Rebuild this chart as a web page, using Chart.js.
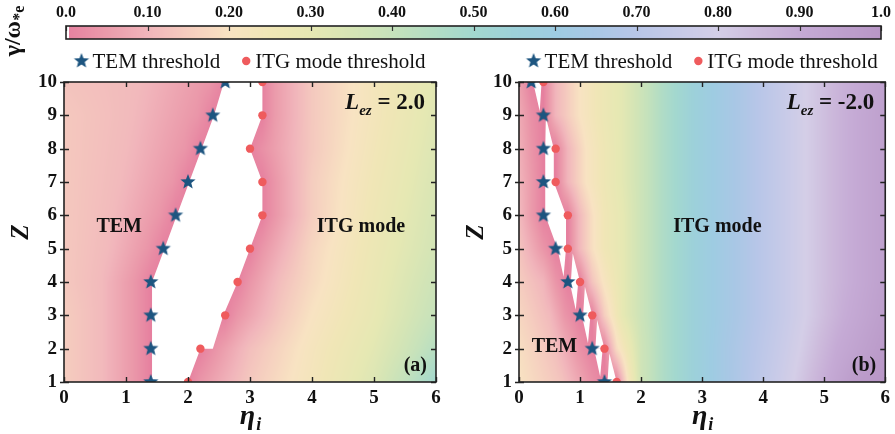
<!DOCTYPE html>
<html><head><meta charset="utf-8">
<script src="https://cdn.jsdelivr.net/npm/chart.js@4.4.1/dist/chart.umd.min.js"></script>
<style>
html,body{margin:0;padding:0;background:#fff;overflow:hidden}
#wrap{position:relative;width:895px;height:434px;background:#fff}
canvas{position:absolute}
</style></head><body>
<div id="wrap">
<canvas id="ca" width="447" height="434" style="left:0;top:0"></canvas>
<canvas id="cb" width="448" height="434" style="left:447px;top:0"></canvas>
<canvas id="cbar" width="895" height="62" style="left:0;top:0"></canvas>
</div>
<script>
// ---------------- data ----------------
const zLevels = [1,2,3,4,5,6,7,8,9,10];
const etaTicks = [0,1,2,3,4,5,6];
const zTicks = [1,2,3,4,5,6,7,8,9,10];
const colorbarTicks = [0,0.1,0.2,0.3,0.4,0.5,0.6,0.7,0.8,0.9,1.0];
const colorbarTickLabels = ['0.0','0.10','0.20','0.30','0.40','0.50','0.60','0.70','0.80','0.90','1.0'];

// thresholds (eta_i) for Z = 1..10
const temThresholdA = [1.4,1.4,1.4,1.4,1.6,1.8,2.0,2.2,2.4,2.6];
const itgThresholdA = [2.0,2.2,2.6,2.8,3.0,3.2,3.2,3.0,3.2,3.2];
const temThresholdB = [1.4,1.2,1.0,0.8,0.6,0.4,0.4,0.4,0.4,0.2];
const itgThresholdB = [1.6,1.4,1.2,1.0,0.8,0.8,0.6,0.6,0.4,0.4];

// growth rate gamma/omega*e samples [eta, gamma] along each Z row (Z = 1..10)
const gammaTemA = [
 [[0,0.15],[0.6,0.11],[1.15,0.04],[1.4,0]],
 [[0,0.15],[0.6,0.11],[1.15,0.04],[1.4,0]],
 [[0,0.15],[0.6,0.11],[1.15,0.04],[1.4,0]],
 [[0,0.14],[0.6,0.11],[1.15,0.04],[1.4,0]],
 [[0,0.14],[0.7,0.11],[1.35,0.04],[1.6,0]],
 [[0,0.14],[0.8,0.11],[1.55,0.04],[1.8,0]],
 [[0,0.14],[0.9,0.11],[1.75,0.04],[2.0,0]],
 [[0,0.14],[1.0,0.11],[1.95,0.04],[2.2,0]],
 [[0,0.14],[1.1,0.11],[2.15,0.04],[2.4,0]],
 [[0,0.13],[1.2,0.11],[2.35,0.04],[2.6,0]]
];
const gammaItgA = [
 [[2.0,0],[2.2,0.04],[3.0,0.14],[4.0,0.23],[5.0,0.33],[5.5,0.41],[6.0,0.50]],
 [[2.2,0],[2.4,0.03],[3.0,0.12],[4.0,0.22],[5.0,0.31],[5.5,0.37],[6.0,0.44]],
 [[2.6,0],[2.8,0.04],[3.5,0.14],[4.0,0.20],[5.0,0.29],[6.0,0.40]],
 [[2.8,0],[3.0,0.04],[3.5,0.12],[4.0,0.18],[5.0,0.28],[6.0,0.38]],
 [[3.0,0],[3.2,0.04],[4.0,0.17],[5.0,0.27],[6.0,0.36]],
 [[3.2,0],[3.4,0.04],[4.0,0.15],[5.0,0.26],[6.0,0.35]],
 [[3.2,0],[3.4,0.04],[4.0,0.15],[5.0,0.25],[6.0,0.34]],
 [[3.0,0],[3.2,0.03],[4.0,0.14],[5.0,0.24],[6.0,0.33]],
 [[3.2,0],[3.4,0.05],[4.0,0.14],[5.0,0.23],[6.0,0.32]],
 [[3.2,0],[3.4,0.05],[4.0,0.14],[5.0,0.23],[6.0,0.31]]
];
const gammaTemB = [
 [[0,0.20],[0.7,0.13],[1.15,0.04],[1.4,0]],
 [[0,0.19],[0.6,0.12],[0.95,0.04],[1.2,0]],
 [[0,0.17],[0.5,0.11],[0.75,0.04],[1.0,0]],
 [[0,0.15],[0.4,0.10],[0.6,0.04],[0.8,0]],
 [[0,0.13],[0.35,0.05],[0.6,0]],
 [[0,0.11],[0.2,0.05],[0.4,0]],
 [[0,0.10],[0.2,0.05],[0.4,0]],
 [[0,0.09],[0.2,0.04],[0.4,0]],
 [[0,0.08],[0.2,0.03],[0.4,0]],
 [[0,0.06],[0.2,0]]
];
const gammaItgB = [
 [[1.6,0],[1.8,0.22],[2.0,0.37],[2.4,0.47],[2.9,0.56],[3.4,0.64],[4.0,0.73],[4.5,0.80],[5.0,0.89],[5.5,0.97],[6.0,1.0]],
 [[1.4,0],[1.6,0.18],[2.0,0.37],[2.4,0.47],[2.9,0.56],[3.4,0.64],[4.0,0.72],[4.6,0.80],[5.2,0.90],[6.0,0.98]],
 [[1.2,0],[1.4,0.15],[1.7,0.30],[2.0,0.38],[2.4,0.47],[2.9,0.56],[3.4,0.63],[4.0,0.71],[4.7,0.80],[5.3,0.89],[6.0,0.96]],
 [[1.0,0],[1.2,0.13],[1.4,0.21],[1.7,0.30],[2.0,0.38],[2.4,0.47],[2.9,0.56],[3.4,0.63],[4.0,0.71],[4.7,0.80],[5.3,0.88],[6.0,0.95]],
 [[0.8,0],[1.0,0.11],[1.2,0.19],[1.4,0.25],[1.7,0.30],[2.0,0.38],[2.4,0.47],[2.9,0.56],[3.4,0.63],[4.0,0.71],[4.7,0.80],[5.3,0.88],[6.0,0.95]],
 [[0.8,0],[1.0,0.11],[1.2,0.19],[1.4,0.25],[1.7,0.30],[2.0,0.38],[2.4,0.47],[2.9,0.56],[3.4,0.63],[4.0,0.71],[4.7,0.80],[5.3,0.88],[6.0,0.95]],
 [[0.6,0],[0.8,0.10],[1.1,0.20],[1.4,0.26],[1.7,0.31],[2.0,0.38],[2.4,0.47],[2.9,0.56],[3.4,0.63],[4.0,0.71],[4.7,0.80],[5.3,0.88],[6.0,0.95]],
 [[0.6,0],[0.8,0.10],[1.1,0.20],[1.4,0.26],[1.7,0.31],[2.0,0.38],[2.4,0.47],[2.9,0.56],[3.4,0.63],[4.0,0.71],[4.7,0.80],[5.3,0.88],[6.0,0.95]],
 [[0.4,0],[0.6,0.10],[1.0,0.20],[1.4,0.27],[1.7,0.31],[2.0,0.38],[2.4,0.47],[2.9,0.56],[3.4,0.63],[4.0,0.71],[4.7,0.80],[5.3,0.88],[6.0,0.95]],
 [[0.4,0],[0.6,0.10],[1.0,0.20],[1.4,0.27],[1.7,0.31],[2.0,0.38],[2.4,0.47],[2.9,0.56],[3.4,0.63],[4.0,0.71],[4.7,0.80],[5.3,0.88],[6.0,0.94]]
];

// stable (no instability) regions, boundary points [eta, Z]
const stableA = [
 [[1.42,1],[1.42,4],[1.62,5],[1.82,6],[2.02,7],[2.22,8],[2.42,9],[2.58,10],[3.2,10],[3.2,9],[3.0,8],[3.2,7],[3.2,6],[3.0,5],[2.8,4],[2.57,3],[2.4,2],[2.2,2],[2.0,1]]
];
const stableB = [
 [[0.23,10],[0.37,10],[0.34,9.12]],
 [[0.44,8.95],[0.57,8],[0.57,7],[0.77,6],[0.77,5],[0.63,5],[0.43,6],[0.43,8]],
 [[0.63,5],[0.77,5],[0.73,4.16]],
 [[0.85,4],[1.0,4],[0.88,4.86]],
 [[0.83,4],[0.97,4],[0.93,3.16]],
 [[1.05,3],[1.2,3],[1.08,3.86]],
 [[1.03,3],[1.17,3],[1.13,2.16]],
 [[1.25,2],[1.4,2],[1.28,2.86]],
 [[1.23,2],[1.37,2],[1.33,1.16]],
 [[1.45,1],[1.6,1],[1.48,1.86]]
];

// ---------------- styling ----------------
const SERIF = "'Liberation Serif','Times New Roman',serif";
const cmapPos = [0,0.05,0.1,0.15,0.2,0.25,0.3,0.35,0.4,0.45,0.5,0.55,0.6,0.65,0.7,0.75,0.8,0.85,0.9,0.95,1.0];
const cmapHex = ['#e6809f','#eb9bab','#f1b5bb','#f5cdbf','#f8e3c2','#f0e6b6','#e6e8b3','#d6e5b5','#c6e2bb','#b3ddc4','#a3d8cf','#9dd1d9','#9ecce2','#a9c7e5','#b8c6e8','#c6cae8','#d4cee7','#cdbbdc','#c5aad5','#bea0cd','#b896c6'];
const cmapRGB = cmapHex.map(h=>[parseInt(h.slice(1,3),16),parseInt(h.slice(3,5),16),parseInt(h.slice(5,7),16)]);
function colorFor(v){
  if(v<=0) return cmapRGB[0];
  if(v>=1) return cmapRGB[cmapRGB.length-1];
  for(let k=1;k<cmapPos.length;k++){
    if(v<=cmapPos[k]){const t=(v-cmapPos[k-1])/(cmapPos[k]-cmapPos[k-1]);const a=cmapRGB[k-1],b=cmapRGB[k];
      return [a[0]+(b[0]-a[0])*t,a[1]+(b[1]-a[1])*t,a[2]+(b[2]-a[2])*t];}
  }
  return cmapRGB[cmapRGB.length-1];
}
function interp(kn,x){
  if(x<=kn[0][0]) return kn[0][1];
  for(let k=1;k<kn.length;k++){ if(x<=kn[k][0]){const t=(x-kn[k-1][0])/(kn[k][0]-kn[k-1][0]);return kn[k-1][1]+(kn[k][1]-kn[k-1][1])*t;} }
  return kn[kn.length-1][1];
}
function rowGamma(f,i,eta){
  if(eta<=f.temTh[i]) return interp(f.tem[i],eta);
  if(eta>=f.itgTh[i]) return interp(f.itg[i],eta);
  return 0;
}
function gammaAt(f,eta,z){
  const zz=Math.min(Math.max(z,zLevels[0]),zLevels[zLevels.length-1]);
  let i0=0; while(i0<zLevels.length-2 && zz>zLevels[i0+1]) i0++;
  const t=(zz-zLevels[i0])/(zLevels[i0+1]-zLevels[i0]);
  return (1-t)*rowGamma(f,i0,eta)+t*rowGamma(f,i0+1,eta);
}
function makeStar(R,color){
  const s=Math.ceil(2*R+2); const c=document.createElement('canvas'); c.width=s; c.height=s;
  const g=c.getContext('2d'); g.fillStyle=color; g.beginPath();
  for(let k=0;k<10;k++){const r=k%2?R*0.43:R; const a=-Math.PI/2+k*Math.PI/5;
    const x=s/2+r*Math.cos(a), y=s/2+r*Math.sin(a); k?g.lineTo(x,y):g.moveTo(x,y);}
  g.closePath(); g.fill(); return c;
}
const STAR_COLOR='#1d5580', CIRC_COLOR='#ef5b5d';
const starImg = makeStar(8,STAR_COLOR);

function heatmapPlugin(field, stable){
  return {id:'heatmap', beforeDatasetsDraw(chart){
    const {ctx,chartArea:{left,top,right,bottom},scales:{x,y}}=chart;
    const L=Math.round(left),T=Math.round(top),W=Math.round(right)-L,H=Math.round(bottom)-T;
    const off=document.createElement('canvas'); off.width=W; off.height=H;
    const g=off.getContext('2d'); const img=g.createImageData(W,H); const d=img.data;
    const etas=[]; for(let i=0;i<W;i++) etas.push(x.getValueForPixel(L+i+0.5));
    for(let j=0;j<H;j++){const z=y.getValueForPixel(T+j+0.5);
      for(let i=0;i<W;i++){const c=colorFor(gammaAt(field,etas[i],z)); const k=(j*W+i)*4;
        d[k]=c[0];d[k+1]=c[1];d[k+2]=c[2];d[k+3]=255;}}
    g.putImageData(img,0,0); ctx.drawImage(off,L,T);
    ctx.save(); ctx.fillStyle='#ffffff';
    for(const poly of stable){ctx.beginPath();
      poly.forEach((p,k)=>{const px=x.getPixelForValue(p[0]),py=y.getPixelForValue(p[1]);k?ctx.lineTo(px,py):ctx.moveTo(px,py);});
      ctx.closePath(); ctx.fill();}
    ctx.restore();
  }};
}
function decorPlugin(cfg){
  return {id:'decor', afterDraw(chart){
    const {ctx,chartArea:{left,top,right,bottom},scales:{x,y}}=chart;
    ctx.save();
    // ticks & frame
    ctx.strokeStyle='#222'; ctx.lineWidth=1.4;
    ctx.beginPath();
    for(const v of etaTicks){const px=Math.round(x.getPixelForValue(v))+0.5;
      ctx.moveTo(px,bottom); ctx.lineTo(px,bottom-5); ctx.moveTo(px,top); ctx.lineTo(px,top+5);}
    for(const v of zTicks){const py=Math.round(y.getPixelForValue(v))+0.5;
      ctx.moveTo(left-4,py); ctx.lineTo(left+5,py); ctx.moveTo(right,py); ctx.lineTo(right-5,py);}
    ctx.stroke();
    ctx.lineWidth=1.6; ctx.strokeRect(left,top,right-left,bottom-top);
    ctx.fillStyle='#111';
    // region labels
    ctx.font='bold 20px '+SERIF; ctx.textAlign='center'; ctx.textBaseline='middle';
    for(const lb of cfg.labels){ctx.fillText(lb.text,x.getPixelForValue(lb.eta),y.getPixelForValue(lb.z));}
    // L_ez label
    ctx.textBaseline='alphabetic'; ctx.textAlign='left';
    const segs=[{t:'L',f:'italic bold 23px '+SERIF,dy:0},{t:'ez',f:'italic bold 15px '+SERIF,dy:6},{t:' = '+cfg.lez,f:'bold 23px '+SERIF,dy:0}];
    let tw=0; segs.forEach(s=>{ctx.font=s.f; s.w=ctx.measureText(s.t).width; tw+=s.w;});
    let cx=right-11-tw; const by=top+27;
    segs.forEach(s=>{ctx.font=s.f; ctx.fillText(s.t,cx,by+s.dy); cx+=s.w;});
    // panel tag
    ctx.font='bold 20px '+SERIF; ctx.textAlign='right'; ctx.fillText(cfg.tag,right-9,bottom-11);
    // axis titles
    ctx.save(); ctx.translate(left-42,(top+bottom)/2); ctx.rotate(-Math.PI/2);
    ctx.font='italic bold 25px '+SERIF; ctx.textAlign='center'; ctx.textBaseline='middle'; ctx.fillText('Z',0,0); ctx.restore();
    ctx.font='italic bold 28px '+SERIF; const we=ctx.measureText('η').width;
    ctx.font='italic bold 18px '+SERIF; const wi=ctx.measureText('i').width;
    let ex=(left+right)/2-(we+wi)/2; ctx.textAlign='left';
    ctx.font='italic bold 28px '+SERIF; ctx.fillText('η',ex,bottom+42);
    ctx.font='italic bold 18px '+SERIF; ctx.fillText('i',ex+we+1,bottom+48);
    // legend
    const ds=chart.data.datasets;
    ctx.font='21px '+SERIF; ctx.textBaseline='middle';
    const w1=ctx.measureText(ds[0].label).width, w2=ctx.measureText(ds[1].label).width;
    const total=18+w1+22+13+w2; let lx=(left+right)/2-total/2; const ly=61;
    ctx.drawImage(starImg,lx+7-starImg.width/2,ly-starImg.height/2);
    ctx.fillText(ds[0].label,lx+18,ly+1); lx+=18+w1+22;
    ctx.fillStyle=CIRC_COLOR; ctx.beginPath(); ctx.arc(lx+4,ly,4.2,0,Math.PI*2); ctx.fill();
    ctx.fillStyle='#111'; ctx.fillText(ds[1].label,lx+13,ly+1);
    ctx.restore();
  }};
}
function makePanel(id,temTh,itgTh,temKn,itgKn,stable,yW,padR,cfg){
  const field={tem:temKn,itg:itgKn,temTh:temTh,itgTh:itgTh};
  const tickFont={family:SERIF,size:19,weight:'bold'};
  return new Chart(document.getElementById(id),{
    type:'scatter',
    data:{datasets:[
      {label:'TEM threshold',data:zLevels.map((z,i)=>({x:temTh[i],y:z})),pointStyle:starImg,pointRadius:8,clip:0},
      {label:'ITG mode threshold',data:zLevels.map((z,i)=>({x:itgTh[i],y:z})),pointStyle:'circle',pointRadius:4.2,backgroundColor:CIRC_COLOR,borderWidth:0,clip:0}
    ]},
    options:{responsive:false,animation:false,devicePixelRatio:1,
      layout:{padding:{top:82,right:padR,left:0,bottom:0}},
      plugins:{legend:{display:false},tooltip:{enabled:false}},
      scales:{
        x:{type:'linear',min:0,max:6,afterBuildTicks:s=>{s.ticks=etaTicks.map(v=>({value:v}));},
           ticks:{font:tickFont,color:'#111',padding:5,maxRotation:0,autoSkip:false},
           grid:{display:false,drawTicks:false,tickLength:0},border:{display:false},afterFit:s=>{s.height=52;}},
        y:{type:'linear',min:1,max:10,afterBuildTicks:s=>{s.ticks=zTicks.map(v=>({value:v}));},
           ticks:{font:tickFont,color:'#111',padding:7,autoSkip:false},
           grid:{display:false,drawTicks:false,tickLength:0},border:{display:false},afterFit:s=>{s.width=yW;}}
      }},
    plugins:[heatmapPlugin(field,stable),decorPlugin(cfg)]
  });
}
makePanel('ca',temThresholdA,itgThresholdA,gammaTemA,gammaItgA,stableA,64,11,
  {lez:'2.0',tag:'(a)',labels:[{text:'TEM',eta:0.89,z:5.65},{text:'ITG mode',eta:4.79,z:5.65}]});
makePanel('cb',temThresholdB,itgThresholdB,gammaTemB,gammaItgB,stableB,72,5,
  {lez:'-2.0',tag:'(b)',labels:[{text:'ITG mode',eta:3.25,z:5.65},{text:'TEM',eta:0.58,z:2.05}]});

// colorbar
const colorbarPlugin={id:'cbar',afterDraw(chart){
  const {ctx,chartArea:{left,top,right,bottom},scales:{x}}=chart;
  ctx.save();
  for(let px=Math.floor(left);px<Math.ceil(right);px++){
    const v=x.getValueForPixel(px+0.5); const c=v<0.004?[255,255,255]:colorFor(v);
    ctx.fillStyle='rgb('+c.map(Math.round).join(',')+')'; ctx.fillRect(px,top,1,bottom-top);
  }
  ctx.strokeStyle='#333'; ctx.lineWidth=1.2; ctx.beginPath();
  for(const v of colorbarTicks){const px=Math.round(x.getPixelForValue(v))+0.5; ctx.moveTo(px,top); ctx.lineTo(px,top+5);}
  ctx.stroke();
  ctx.strokeStyle='#222'; ctx.lineWidth=1.6; ctx.strokeRect(left,top,right-left,bottom-top);
  // label gamma/omega_*e
  ctx.fillStyle='#111'; ctx.translate(14,31); ctx.rotate(-Math.PI/2);
  ctx.font='bold 24px '+SERIF; const w1=ctx.measureText('γ/ω').width;
  ctx.font='bold 16px '+SERIF; const w2=ctx.measureText('*e').width;
  ctx.textBaseline='middle'; ctx.textAlign='left';
  ctx.font='bold 24px '+SERIF; ctx.fillText('γ/ω',-(w1+w2)/2,0);
  ctx.font='bold 16px '+SERIF; ctx.fillText('*e',-(w1+w2)/2+w1,6);
  ctx.restore();
}};
new Chart(document.getElementById('cbar'),{
  type:'scatter',data:{datasets:[]},
  options:{responsive:false,animation:false,devicePixelRatio:1,
    layout:{padding:{left:66,right:5,top:0,bottom:23}},
    plugins:{legend:{display:false},tooltip:{enabled:false}},
    scales:{
      x:{type:'linear',position:'top',min:0,max:1,afterBuildTicks:s=>{s.ticks=colorbarTicks.map(v=>({value:v}));},
         ticks:{callback:(v,i)=>colorbarTickLabels[i],font:{family:SERIF,size:16,weight:'bold'},color:'#111',padding:4,maxRotation:0,autoSkip:false},
         grid:{display:false,drawTicks:false,tickLength:0},border:{display:false},afterFit:s=>{s.height=26;}},
      y:{display:false,min:0,max:1}
    }},
  plugins:[colorbarPlugin]
});
</script>
</body></html>
